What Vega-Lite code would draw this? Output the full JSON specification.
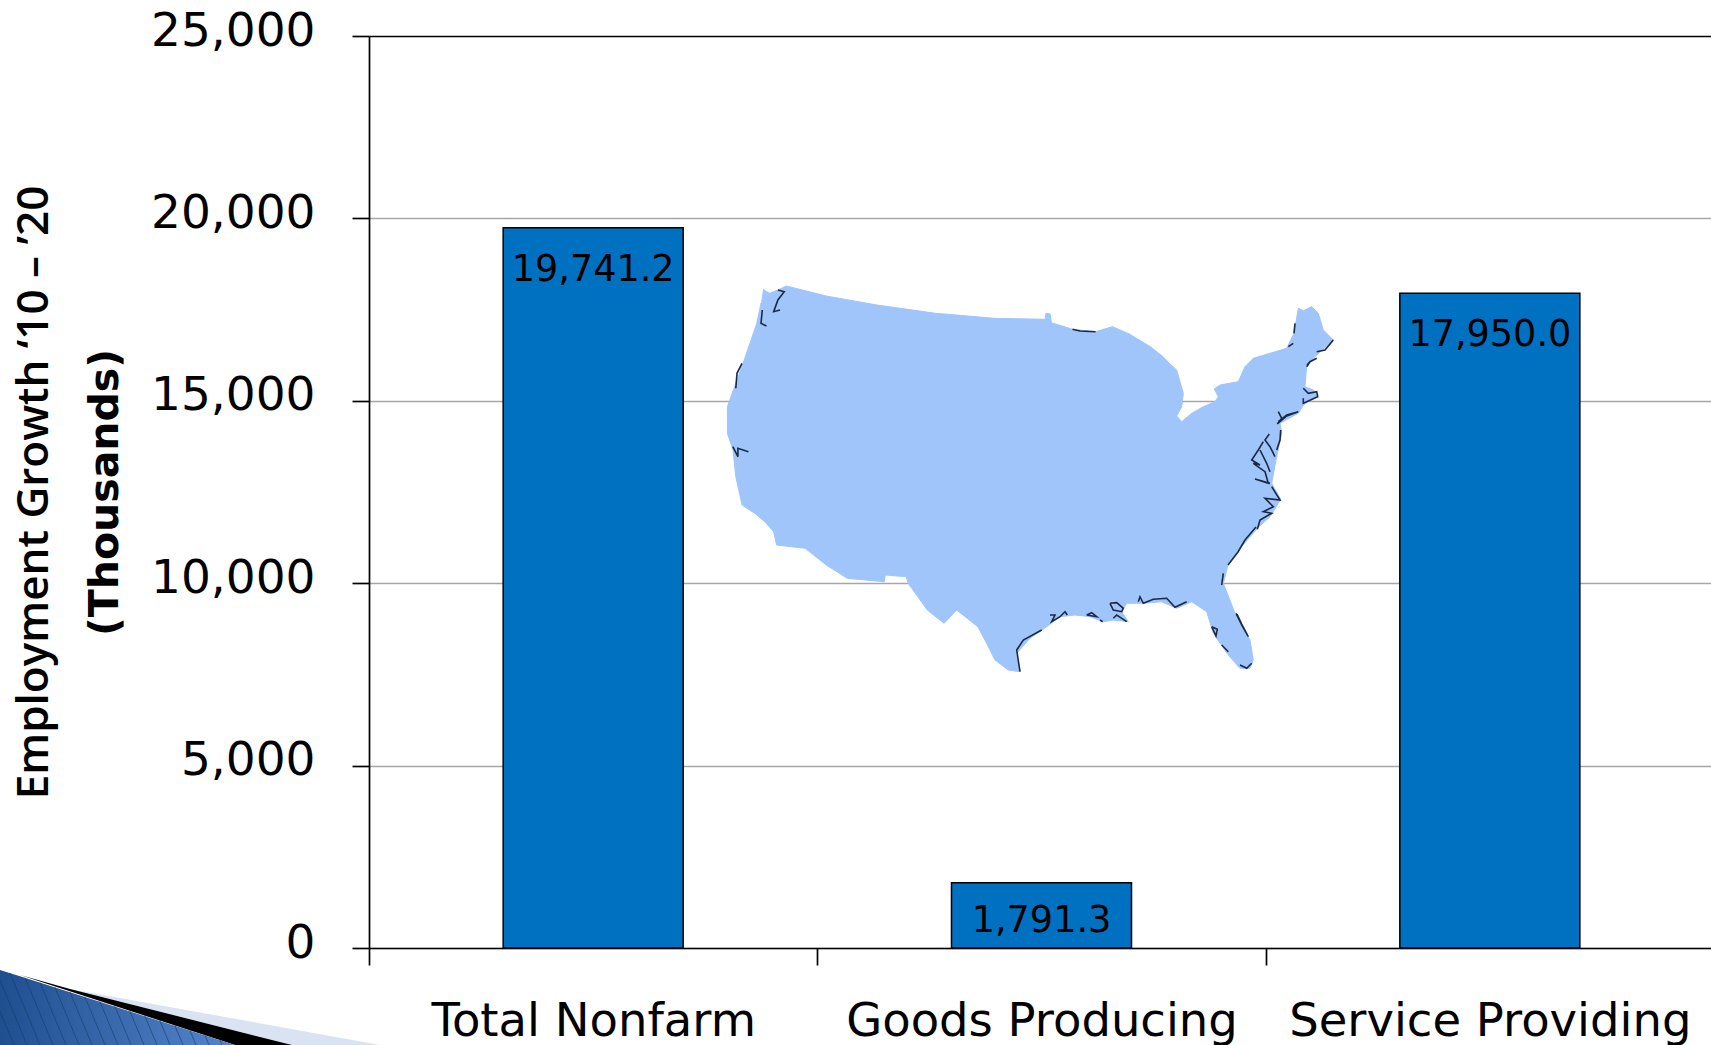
{"$schema":"https://vega.github.io/schema/vega-lite/v6.json","width":1342,"height":912,"autosize":"none","padding":{"left":369,"top":36,"right":0,"bottom":97},"background":"white","view":{"stroke":null},
"datasets":{
"bars":[{"sector":"Total Nonfarm","growth":19741.2},{"sector":"Goods Producing","growth":1791.3},{"sector":"Service Providing","growth":17950.0}],
"land":[[763.1,289.3],[769.4,293.3],[777.9,290],[786.3,286],[826.3,296],[876.8,305],[935.7,313.3],[994.6,318.3],[1045.1,319.3],[1046,313.3],[1050.2,314],[1051.4,322.7],[1072.5,329.3],[1095.6,331.7],[1112.5,326.7],[1129.3,334],[1150.3,346.7],[1163,356.7],[1170,364],[1176.7,370],[1183.3,393.3],[1181.7,406.7],[1176.7,416],[1181.7,421.7],[1191.7,413.3],[1203.3,406.7],[1215,401.7],[1218.3,396.7],[1214.3,389],[1220,385],[1238.3,381.7],[1245,366.7],[1253.3,358.3],[1286.7,348.3],[1294,333.3],[1298.3,308.3],[1303.3,310.7],[1311.7,306.7],[1318.3,313.3],[1323.3,330],[1333.3,340],[1316.7,355],[1306.7,365],[1305,386.7],[1313.3,390],[1318.3,395],[1303.3,405],[1298.3,413.3],[1280,423.3],[1281.7,433.3],[1276,460],[1271.7,483.3],[1280.7,499.3],[1270,516.7],[1258.3,527.3],[1238.7,550],[1228,565],[1223.3,583.3],[1235,613.3],[1250,640],[1253.3,660],[1250,668.3],[1240,668.3],[1228.3,655],[1213.3,633.3],[1206.7,611.7],[1191.7,601.7],[1176.7,608.3],[1161.7,601.7],[1143.3,603.3],[1126.7,603.3],[1121.7,611.7],[1128.3,621.7],[1113.3,620],[1103.3,621.7],[1090,616.7],[1075,615],[1060,616.7],[1046.7,626.7],[1030,638.3],[1016.7,653.3],[1020,671.7],[1008.3,670],[995,660],[986.7,643.3],[977.8,626.7],[956.7,610],[944.1,623.3],[927.3,610],[908.3,583.3],[906.2,576.7],[885.2,575],[884.3,581.7],[847.3,578.3],[826.3,565],[805.2,548.3],[776.6,545],[773.7,531.7],[765,522],[754.7,513.3],[742.1,505],[735.8,476.7],[733,450],[727.4,433.3],[727.4,406.7],[735.8,383.3],[744.2,360],[756.8,323.3],[761,303]],
"coast":[
{"s":"a","p":[[777.9,290],[784.2,291.7],[777.9,300],[773.7,311.7],[780,310]]},
{"s":"b","p":[[762.3,310],[761,323.3],[766.5,326]]},
{"s":"b2","p":[[742,363.3],[737,373.3],[735.8,388.3]]},
{"s":"c","p":[[732.8,446.7],[737.9,456.7],[737.9,448.3],[748.4,451.7]]},
{"s":"m1","p":[[1316.7,351.7],[1325,350],[1333.3,340]]},
{"s":"m2","p":[[1306.7,366.7],[1310,361.7],[1316.7,358.3],[1310,361.7],[1307,365]]},
{"s":"m3","p":[[1295,323.3],[1294,333.3]]},
{"s":"m4","p":[[1288.3,346.7],[1293.3,343.3]]},
{"s":"cc","p":[[1303.3,388.3],[1308.3,393.3],[1316.7,391.7],[1317.7,396.7],[1303.3,403.3],[1303.3,398.3]]},
{"s":"li","p":[[1278.3,411.7],[1281.7,418.3],[1277.3,424],[1286.7,416],[1298.3,411.7],[1286.7,415],[1278.3,421.7]]},
{"s":"de","p":[[1269.3,434],[1265,440],[1270,446.7],[1275,456.7]]},
{"s":"de2","p":[[1280.7,430],[1280,440],[1276.7,450]]},
{"s":"ch","p":[[1263.3,441.7],[1258.3,450],[1251.7,460],[1260,465],[1253.3,463.3],[1265,471.7],[1268.3,483.3],[1255,479],[1270,483.3]]},
{"s":"ch2","p":[[1260,450],[1266.7,463.3],[1270,471.7]]},
{"s":"pa","p":[[1271.7,486.7],[1280,500],[1265,498.3],[1273.3,506.7],[1263.3,511.7],[1271.7,513.3],[1260,520],[1257.3,529.3]]},
{"s":"se","p":[[1256,527],[1245,540],[1238,552],[1228,565]]},
{"s":"ga","p":[[1223.3,573.3],[1221.7,585]]},
{"s":"tx","p":[[1020,671.7],[1016.7,650],[1023.3,640],[1041.7,630]]},
{"s":"la1","p":[[1050,615],[1055,615],[1051.7,621.7],[1060,616.7],[1065,611.7],[1067.3,615]]},
{"s":"la2","p":[[1086.7,615],[1091.7,612.7],[1096.7,616.7],[1086.7,615]]},
{"s":"la3","p":[[1100,620],[1102.7,621.7]]},
{"s":"po","p":[[1110,603.3],[1116.7,602.7],[1123.3,608.3],[1121.7,611.7],[1113.3,610],[1110,603.3]]},
{"s":"del","p":[[1113.3,618.3],[1116.7,615],[1126.7,621.7]]},
{"s":"ms","p":[[1138.3,601.7],[1140,596.7],[1143.3,603.3],[1153.3,599.3],[1166.7,598.3],[1175,607.3],[1186.7,601.7]]},
{"s":"fl1","p":[[1211.7,626.7],[1217.3,629.3],[1216,636],[1211.7,626.7]]},
{"s":"fl2","p":[[1221.7,645],[1228.3,651.7]]},
{"s":"fl3","p":[[1236,613.3],[1241.7,625],[1248.3,636.7],[1241.7,624],[1237,614]]},
{"s":"fl4","p":[[1240,665],[1246.7,668.3],[1251.7,663.3]]},
{"s":"nd","p":[[1072.5,329.3],[1080,331],[1095.6,331.7]]}
],
"hatch":[
{"s":1,"p":[[0,1011.4],[14,1045]]},{"s":2,"p":[[0,980.2],[27,1045]]},{"s":3,"p":[[10,973.1],[40,1045]]},{"s":4,"p":[[25,977.8],[53,1045]]},{"s":5,"p":[[40,982.5],[66,1045]]},{"s":6,"p":[[54.9,987.2],[79,1045]]},{"s":7,"p":[[69.8,991.8],[92,1045]]},{"s":8,"p":[[84.8,996.5],[105,1045]]},{"s":9,"p":[[99.7,1001.2],[118,1045]]},{"s":10,"p":[[114.7,1005.8],[131,1045]]},{"s":11,"p":[[129.6,1010.5],[144,1045]]},{"s":12,"p":[[144.5,1015.2],[157,1045]]},{"s":13,"p":[[159.5,1019.8],[170,1045]]},{"s":14,"p":[[174.4,1024.5],[183,1045]]},{"s":15,"p":[[189.4,1029.2],[196,1045]]},{"s":16,"p":[[204.3,1033.8],[209,1045]]},{"s":17,"p":[[219.3,1038.5],[222,1045]]}
],
"swooshLight":[[70,989],[380,1045],[292,1045]],
"swooshBlack":[[20,975],[70,989],[292,1045],[235,1045]],
"swooshBlue":[[0,970],[20,976.3],[235,1045],[0,1045]]
},
"config":{"font":"DejaVu Sans"},
"layer":[
{"data":{"name":"bars"},"layer":[
{"mark":{"type":"bar","fill":"#0070C0","stroke":"#000000","strokeWidth":1.5,"width":180},
"encoding":{
"x":{"field":"sector","type":"nominal","sort":null,"scale":{"range":[0,1345],"paddingInner":0,"paddingOuter":0},"axis":{"title":null,"labelAngle":0,"labelFontSize":46.5,"labelColor":"#000000","labelPadding":33,"tickBand":"extent","tickSize":17,"tickColor":"#000000","tickWidth":1.7,"domainColor":"#000000","domainWidth":1.7,"labelBaseline":"top","labelFlush":false,"labelOverlap":false,"labelLimit":500,"grid":false}},
"y":{"field":"growth","type":"quantitative","scale":{"domain":[0,25000],"nice":false},"axis":{"title":"Employment Growth ‘10 – ’20","titleFont":"Open Sans","titleFontSize":44,"titleFontWeight":600,"titleColor":"#000000","titleAnchor":"middle","titleX":-313,"titleY":456,"values":[0,5000,10000,15000,20000,25000],"format":",d","labelFontSize":47,"labelColor":"#000000","labelPadding":37,"labelOffset":-5,"tickSize":17,"tickColor":"#000000","tickWidth":1.7,"domainColor":"#000000","domainWidth":1.7,"grid":true,"gridColor":{"condition":{"test":"datum.value===25000","value":"#000000"},"value":"#a6a6a6"},"gridWidth":1.6}}}},
{"transform":[{"filter":"datum.growth>=5000"}],"mark":{"type":"text","fontSize":36.6,"color":"#000000","baseline":"middle","align":"center","dy":42},
"encoding":{"x":{"field":"sector","type":"nominal","sort":null},"y":{"field":"growth","type":"quantitative"},"text":{"field":"growth","type":"quantitative","format":",.1f"}}},
{"transform":[{"filter":"datum.growth<5000"}],"mark":{"type":"text","fontSize":36.6,"color":"#000000","baseline":"middle","align":"center","dy":38},
"encoding":{"x":{"field":"sector","type":"nominal","sort":null},"y":{"field":"growth","type":"quantitative"},"text":{"field":"growth","type":"quantitative","format":",.1f"}}}
]},
{"data":{"name":"land"},"transform":[{"calculate":"datum[0]","as":"mapX"},{"calculate":"datum[1]","as":"mapY"},{"window":[{"op":"row_number","as":"o"}]}],"mark":{"type":"line","fill":"#9FC5FB","stroke":"#9FC5FB","strokeWidth":1},
"encoding":{"x":{"field":"mapX","type":"quantitative","axis":null,"scale":{"domain":[0,1711],"range":[-369,1342],"nice":false,"zero":false}},"y":{"field":"mapY","type":"quantitative","scale":{"domain":[0,1045],"range":[-36,1009],"nice":false,"zero":false},"axis":{"orient":"left","title":"(Thousands)","titleFont":"DejaVu Sans","titleFontSize":41,"titleFontWeight":"bold","titleColor":"#000000","titleAnchor":"middle","titleX":-243,"titleY":456,"labels":false,"ticks":false,"domain":false,"grid":false}},"order":{"field":"o"}}},
{"data":{"name":"coast"},"transform":[{"flatten":["p"]},{"calculate":"datum.p[0]","as":"mapX"},{"calculate":"datum.p[1]","as":"mapY"},{"window":[{"op":"row_number","as":"o"}]}],"mark":{"type":"line","stroke":"#1b2a44","strokeWidth":1.6},
"encoding":{"x":{"field":"mapX","type":"quantitative","axis":null,"scale":{"domain":[0,1711],"range":[-369,1342],"nice":false,"zero":false}},"y":{"field":"mapY","type":"quantitative","axis":null,"scale":{"domain":[0,1045],"range":[-36,1009],"nice":false,"zero":false}},"detail":{"field":"s"},"order":{"field":"o"}}},
{"data":{"name":"swooshLight"},"transform":[{"calculate":"datum[0]","as":"mapX"},{"calculate":"datum[1]","as":"mapY"},{"window":[{"op":"row_number","as":"o"}]}],"mark":{"type":"line","fill":"#DAE3F2","strokeWidth":0},
"encoding":{"x":{"field":"mapX","type":"quantitative","axis":null,"scale":{"domain":[0,1711],"range":[-369,1342],"nice":false,"zero":false}},"y":{"field":"mapY","type":"quantitative","axis":null,"scale":{"domain":[0,1045],"range":[-36,1009],"nice":false,"zero":false}},"order":{"field":"o"}}},
{"data":{"name":"swooshBlack"},"transform":[{"calculate":"datum[0]","as":"mapX"},{"calculate":"datum[1]","as":"mapY"},{"window":[{"op":"row_number","as":"o"}]}],"mark":{"type":"line","fill":"#000000","strokeWidth":0},
"encoding":{"x":{"field":"mapX","type":"quantitative","axis":null,"scale":{"domain":[0,1711],"range":[-369,1342],"nice":false,"zero":false}},"y":{"field":"mapY","type":"quantitative","axis":null,"scale":{"domain":[0,1045],"range":[-36,1009],"nice":false,"zero":false}},"order":{"field":"o"}}},
{"data":{"name":"swooshBlue"},"transform":[{"calculate":"datum[0]","as":"mapX"},{"calculate":"datum[1]","as":"mapY"},{"window":[{"op":"row_number","as":"o"}]}],"mark":{"type":"line","fill":{"x1":0,"y1":0,"x2":1,"y2":0,"gradient":"linear","stops":[{"offset":0,"color":"#1F4F8F"},{"offset":1,"color":"#5585CC"}]},"strokeWidth":0},
"encoding":{"x":{"field":"mapX","type":"quantitative","axis":null,"scale":{"domain":[0,1711],"range":[-369,1342],"nice":false,"zero":false}},"y":{"field":"mapY","type":"quantitative","axis":null,"scale":{"domain":[0,1045],"range":[-36,1009],"nice":false,"zero":false}},"order":{"field":"o"}}},
{"data":{"name":"hatch"},"transform":[{"flatten":["p"]},{"calculate":"datum.p[0]","as":"mapX"},{"calculate":"datum.p[1]","as":"mapY"}],"mark":{"type":"line","stroke":"#17386B","strokeWidth":1,"opacity":0.6},
"encoding":{"x":{"field":"mapX","type":"quantitative","axis":null,"scale":{"domain":[0,1711],"range":[-369,1342],"nice":false,"zero":false}},"y":{"field":"mapY","type":"quantitative","axis":null,"scale":{"domain":[0,1045],"range":[-36,1009],"nice":false,"zero":false}},"detail":{"field":"s"}}}
],
"resolve":{"scale":{"x":"independent","y":"independent"},"axis":{"x":"independent","y":"independent"}}}
